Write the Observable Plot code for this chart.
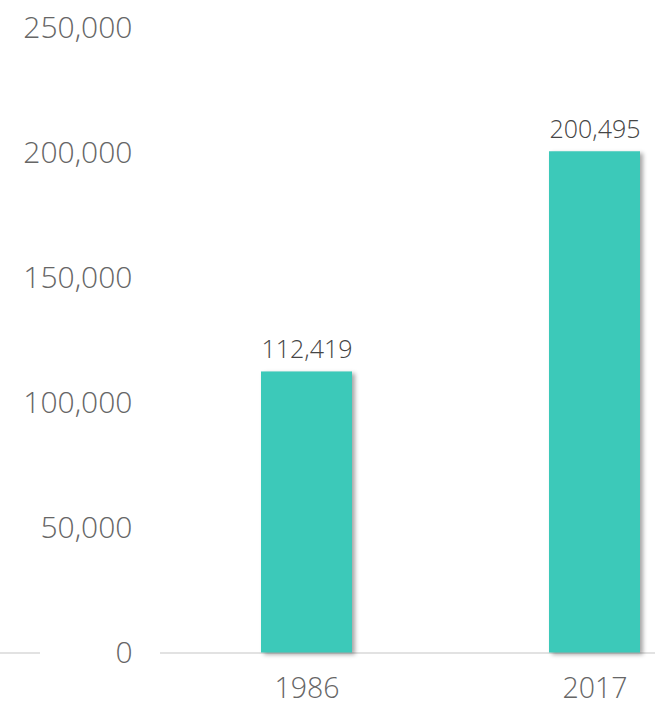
<!DOCTYPE html>
<html>
<head>
<meta charset="utf-8">
<script src="https://cdn.jsdelivr.net/npm/d3@7"></script>
<script src="https://cdn.jsdelivr.net/npm/@observablehq/plot@0.6"></script>
<style>
  html, body { margin: 0; padding: 0; background: #fff; }
  #chart svg { display: block; }
</style>
</head>
<body>
<div id="chart"></div>
<script>
const years = ["1986", "2017"];
const values = [112419, 200495];
const yTicks = [0, 50000, 100000, 150000, 200000, 250000];

const data = years.map((y, i) => ({ year: y, value: values[i] }));
const fmt = d3.format(",");
const font = "'Open Sans', 'Noto Sans', sans-serif";

const chart = Plot.plot({
  width: 655,
  height: 711,
  marginLeft: 0,
  marginRight: 0,
  marginTop: 27.5,
  marginBottom: 58.5,
  style: { fontFamily: font, background: "#fff" },
  x: { domain: years, range: [245, 655], paddingInner: 0.685, paddingOuter: 0.0519, label: null },
  y: { domain: [0, 250000], label: null },
  marks: [
    Plot.ruleY([0], { stroke: "#d9d9d9", strokeWidth: 1.5, strokeDasharray: "40,120,2000" }),
    Plot.barY(data, { x: "year", y: "value", fill: "#3cc9b9" }),
    Plot.text(data, {
      x: "year", y: "value", text: d => fmt(d.value),
      lineAnchor: "bottom", dy: -14, fontSize: 25, fill: "#454545", fontWeight: 300
    }),
    Plot.axisY({
      ticks: yTicks, tickFormat: fmt, tickSize: 0, tickPadding: 0, dx: 132,
      anchor: "left", fontSize: 30, fill: "#666666", fontWeight: 300, label: null
    }),
    Plot.axisX({
      tickSize: 0, tickPadding: 25, fontSize: 28.5, fill: "#666666", fontWeight: 300, label: null
    })
  ]
});

d3.select(chart).selectAll("g[aria-label='bar'] rect")
  .style("filter", "drop-shadow(3px 2px 2px rgba(0,0,0,0.35))");

document.getElementById("chart").appendChild(chart);
</script>
</body>
</html>
